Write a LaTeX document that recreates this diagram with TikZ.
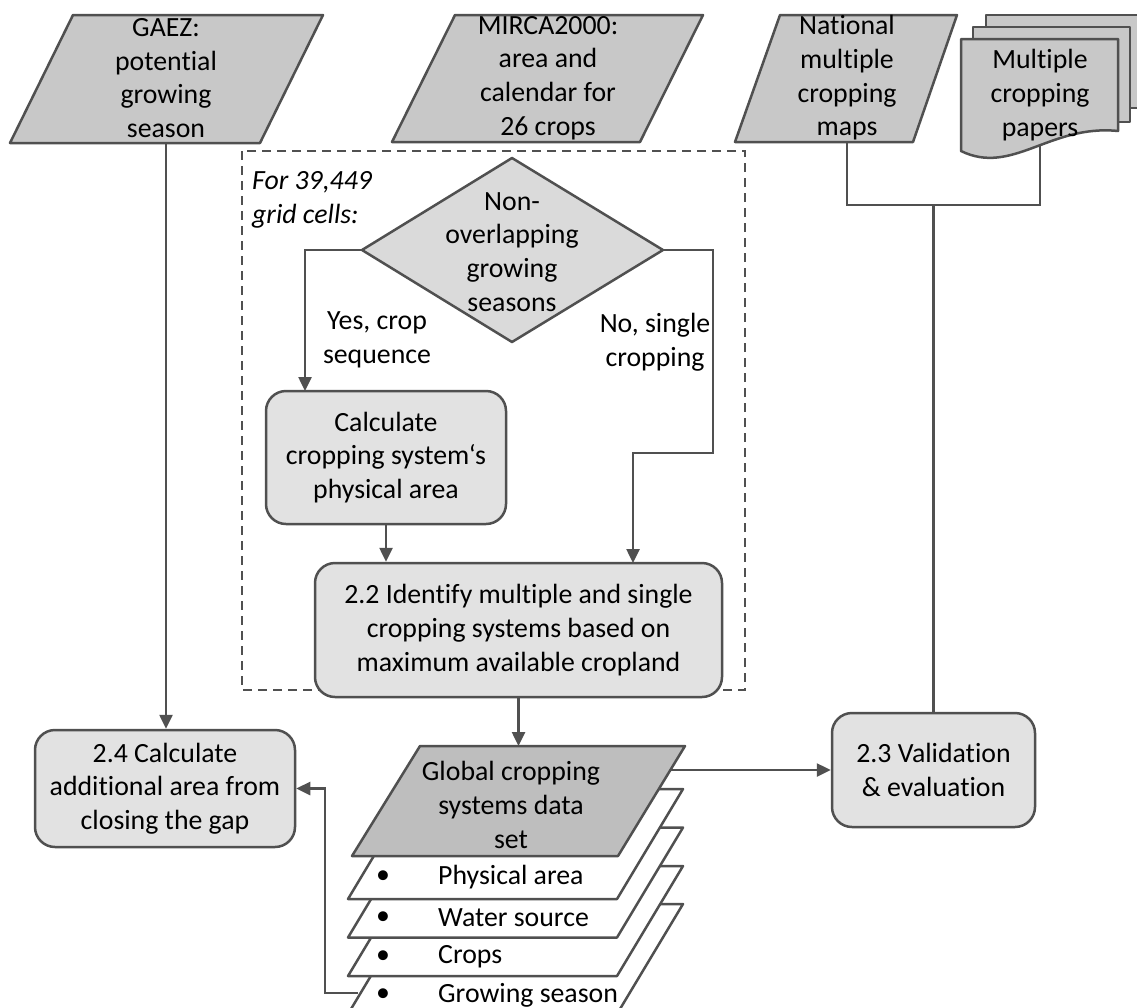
\documentclass[tikz,border=0pt]{standalone}
\usepackage{fontspec}
\setmainfont{Carlito}[Ligatures=NoCommon]
\usetikzlibrary{arrows.meta}
\definecolor{ln}{HTML}{505050}
\definecolor{pfill}{HTML}{C8C8C8}
\definecolor{bfill}{HTML}{E2E2E2}
\definecolor{dfill}{HTML}{DADADA}
\definecolor{gfill}{HTML}{BEBEBE}
\newcommand\myfs{\fontsize{27.8}{33.7}\selectfont}
\begin{document}
\begin{tikzpicture}[x=1pt,y=-1pt,
  shp/.style={draw=ln, line width=2.5pt, line join=round},
  para/.style={shp, fill=pfill},
  rbox/.style={shp, fill=bfill, rounded corners=20pt, inner sep=0pt, align=center, font=\myfs},
  txt/.style={align=center, font=\myfs, inner sep=0pt},
  conn/.style={draw=ln, line width=2.5pt},
  arr/.style={conn, -{Triangle[length=14pt,width=13pt]}},
]
\useasboundingbox (0,0) rectangle (1137,1007);

% ---- top inputs
\draw[para] (73,15) -- (323,15) -- (260,143) -- (10,143) -- cycle;
\node[txt] (gaez) at (166,78) {GAEZ:\\potential\\growing\\season};
\coordinate (gaezB) at (166,143);

\draw[para] (455,15) -- (703,15) -- (640,142) -- (392,142) -- cycle;
\node[txt] (mirca) at (548,78) {MIRCA2000:\\area and\\calendar for\\26 crops};

\draw[para] (780,15) -- (957,15) -- (913,142) -- (735,142) -- cycle;
\node[txt] (nat) at (847,78) {National\\multiple\\cropping\\maps};
\coordinate (natB) at (847,142);

% multiple documents
\draw[shp, fill=pfill] (986,15) rectangle (1160,108);
\draw[shp, fill=pfill] (973,27) rectangle (1130,122);
\draw[shp, fill=pfill] (961,39) -- (1118,39) -- (1118,131)
   .. controls (1050,124) and (1012,176) .. (961,151) -- cycle;
\node[txt] (pap) at (1040,95) {Multiple\\cropping\\papers};
\coordinate (papB) at (1040,146);

% ---- dashed frame
\draw[ln, line width=2.2pt, dash pattern=on 9pt off 6pt] (242,151) rectangle (745,690);
\node[align=left, font=\myfs\itshape, inner sep=0pt, anchor=west] (cells) at (252,200) {For 39,449\\grid cells:};

% diamond
\coordinate (dT) at (512,158);
\coordinate (dL) at (362,250);
\coordinate (dR) at (663,250);
\coordinate (dB) at (512,342);
\draw[shp, fill=dfill] (dT) -- (dR) -- (dB) -- (dL) -- cycle;
\node[txt] (dec) at (512,252) {Non-\\overlapping\\growing\\seasons};

\node[txt] (yes) at (377,340) {Yes, crop\\sequence};
\node[txt] (no) at (655,342) {No, single\\cropping};

% boxes
\node[rbox, minimum width=240pt, minimum height=133pt] (calc) at (386,457.5)
  {Calculate\\cropping system‘s\\physical area};
\node[rbox, minimum width=407pt, minimum height=134pt] (ident) at (518.5,630)
  {2.2 Identify multiple and single\\cropping systems based on\\maximum available cropland};
\node[rbox, minimum width=203pt, minimum height=114pt] (val) at (933.5,770)
  {2.3 Validation\\\& evaluation};
\node[rbox, minimum width=260pt, minimum height=117pt] (add) at (165,788.5)
  {2.4 Calculate\\additional area from\\closing the gap};

\coordinate (cIn) at (305,391);
\coordinate (r1) at (713,453);
\coordinate (r2) at (633,453);
\coordinate (sIn) at (633,563);

% ---- global data set layers
\foreach \t in {904,866,827.5,789}{
  \draw[shp, fill=white] (414,\t) -- (683,\t) -- (617,\t+110) -- (348,\t+110) -- cycle;
}
\draw[shp, fill=gfill] (420,746) -- (685,746) -- (618,856) -- (352,856) -- cycle;
\node[txt] (glob) at (511,805) {Global cropping\\systems data\\set};
\foreach \y/\lab/\nm in {877/Physical area/l1, 918/Water source/l2, 957/Crops/l3, 995/Growing season/l4}{
  \node[txt] (b\nm) at (383,\y) {\textbullet};
  \node[txt, anchor=west] (\nm) at (438,\y) {\lab};
}
\coordinate (gIn) at (518.5,746);
\coordinate (gOut) at (671,770);
\coordinate (l4L) at (358,993);
\coordinate (k1) at (325,993);

% ---- connectors
\coordinate (j1) at (933.5,205);
\draw[conn] (natB) |- (j1) -| (papB);
\draw[conn] (j1) -- (val.north);
\draw[arr] (gaezB) -- (gaezB |- add.north);
\draw[arr] (dL) -| (cIn);
\draw[arr] (dR) -| (r1) -- (r2) -- (sIn);
\draw[arr] (calc.south) -- (calc.south |- ident.north);
\draw[arr] (ident.south) -- (gIn);
\draw[arr] (gOut) -- (gOut -| val.west);
\draw[arr] (l4L) -- (k1) |- (add.east);
\end{tikzpicture}
\end{document}
